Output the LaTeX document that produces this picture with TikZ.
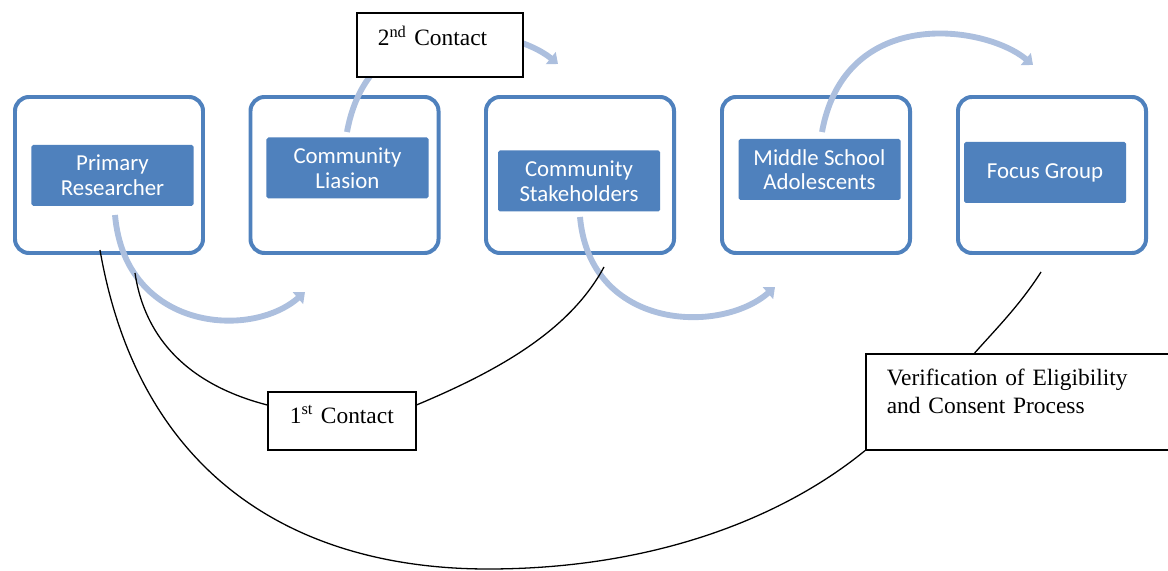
\documentclass[tikz,border=0pt]{standalone}
\usepackage{fontspec}
\setmainfont{Liberation Serif}
\newfontfamily\stagefont{Carlito}
\usetikzlibrary{arrows.meta, positioning}
\definecolor{boxblue}{RGB}{79,129,189}
\definecolor{flowblue}{RGB}{172,191,222}

\begin{document}
\begin{tikzpicture}[x=0.03cm, y=-0.03cm,
  frame/.style={draw=boxblue, line width=3.4pt, rounded corners=0.42cm, fill=white, minimum width=5.64cm, minimum height=4.68cm},
  stage/.style={fill=boxblue, rounded corners=1.5pt, minimum width=4.86cm, minimum height=1.83cm, align=center, text=white, font=\stagefont\fontsize{19.5}{21}\selectfont},
  note/.style={draw, line width=1.4pt, fill=white, anchor=north west, align=left, inner xsep=0.63cm, font=\fontsize{20}{24}\selectfont},
  flow/.style={draw=flowblue, line width=5pt, -{Triangle[length=8pt, width=13pt]}},
  link/.style={draw, line width=1.1pt}
]
\useasboundingbox (0,0) rectangle (1168,571);

% outer frames
\node[frame] (f1) at (109,175) {};
\node[frame] (f2) at (344.5,175) {};
\node[frame] (f3) at (580,175) {};
\node[frame] (f4) at (816,175) {};
\node[frame] (f5) at (1052,175) {};

% stages
\node[stage] (researcher) at (112.5,175.5) {Primary\\Researcher};
\node[stage] (liaison) at (347.5,168) {Community\\Liasion};
\node[stage] (stakeholders) at (579,181) {Community\\Stakeholders};
\node[stage] (adolescents) at (819.5,169.5) {Middle School\\Adolescents};
\node[stage] (focus) at (1045,172.5) {Focus Group};

% flow arrows
\coordinate (a1s) at (115,215);
\coordinate (a1e) at (305,292);
\coordinate (a2s) at (347,132);
\coordinate (a2e) at (558,64);
\coordinate (a3s) at (580,217);
\coordinate (a3e) at (775,287);
\coordinate (a4s) at (822,132);
\coordinate (a4e) at (1033,65);
\draw[flow] (a1s) .. controls (125,330) and (250,340) .. (a1e);
\draw[flow] (a2s) .. controls (370,5) and (510,25) .. (a2e);
\draw[flow] (a3s) .. controls (590,330) and (720,335) .. (a3e);
\draw[flow] (a4s) .. controls (845,5) and (985,25) .. (a4e);

% contact notes
\node[note, minimum width=4.98cm, minimum height=1.92cm, text width=3.72cm, text height=14pt, text depth=12pt] (contact2) at (356,12) {2\textsuperscript{nd} Contact};
\node[note, align=center, minimum width=4.44cm, minimum height=1.74cm, text width=3.18cm, text height=14pt, text depth=9pt] (contact1) at (267,391) {1\textsuperscript{st} Contact};
\node[note, minimum width=9.9cm, minimum height=2.88cm, text width=8.64cm, text depth=42pt] (verif) at (865,353) {Verification of Eligibility\\and Consent Process};

% links
\coordinate (l1s) at (100,250);
\coordinate (l2s) at (135,273);
\coordinate (l3e) at (604,267);
\coordinate (l4s) at (1041,272);
\draw[link] (l1s) .. controls (140,480) and (300,569) .. (488,569) .. controls (650,569) and (780,520) .. (verif.south west);
\draw[link] (l2s) .. controls (145,340) and (190,385) .. (contact1.168);
\draw[link] (contact1.12) .. controls (500,370) and (570,330) .. (l3e);
\draw[link] (l4s) .. controls (1020,305) and (995,330) .. (verif.139);

\end{tikzpicture}
\end{document}
